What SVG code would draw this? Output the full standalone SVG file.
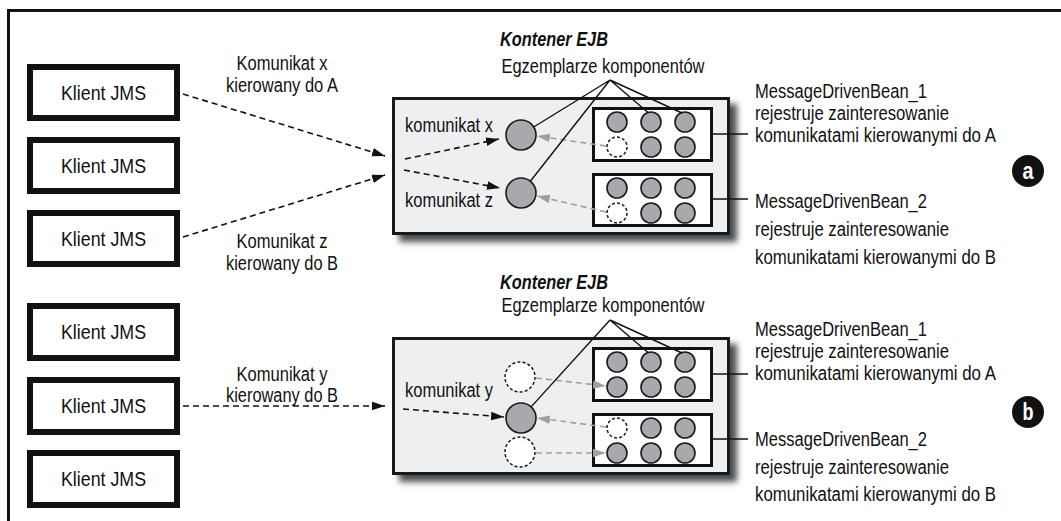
<svg xmlns="http://www.w3.org/2000/svg" width="1061" height="521" viewBox="0 0 1061 521">
<style>
text{font-family:"Liberation Sans",Arial,sans-serif;font-size:20px;fill:#111}
.mid{text-anchor:middle}
.title{font-weight:bold;font-style:italic}
.client{fill:#fff;stroke:#111;stroke-width:6}
.cont{fill:#eeeff1;stroke:#1a1a1a;stroke-width:3}
.shadow{fill:#4a4f52;filter:url(#blur)}
.bean{fill:#fff;stroke:#111;stroke-width:3}
.inst{fill:#a7a9ac;stroke:#1a1a1a;stroke-width:1.6}
.empty{fill:#fff;stroke:#1a1a1a;stroke-width:1.5;stroke-dasharray:3 2.2}
.msg{fill:none;stroke:#111;stroke-width:1.6;stroke-dasharray:6 4;marker-end:url(#ah)}
.ret{fill:none;stroke:#a0a0a0;stroke-width:1.6;stroke-dasharray:6 4;marker-end:url(#ahg)}
.ptr{fill:none;stroke:#111;stroke-width:1.4}
.badge{fill:#111}
.badgetxt{fill:#fff;font-weight:bold;font-size:23px;text-anchor:middle}
</style>
<defs>
<filter id="blur" x="-10%" y="-20%" width="120%" height="140%"><feGaussianBlur stdDeviation="3"/></filter>
<marker id="ah" viewBox="0 0 12 8" refX="12" refY="4" markerWidth="13" markerHeight="9" markerUnits="userSpaceOnUse" orient="auto"><path d="M0,0 L12,4 L0,8 z" fill="#111"/></marker>
<marker id="ahg" viewBox="0 0 12 8" refX="12" refY="4" markerWidth="13" markerHeight="9" markerUnits="userSpaceOnUse" orient="auto"><path d="M0,0 L12,4 L0,8 z" fill="#a0a0a0"/></marker>
</defs>
<rect width="1061" height="521" fill="#fff"/>
<path d="M8.5,521 V10.5 H1061" fill="none" stroke="#111" stroke-width="3"/>

<g id="client1"><rect class="client" x="30" y="67" width="147" height="51"/><text class="mid" x="103.5" y="100" textLength="85" lengthAdjust="spacingAndGlyphs">Klient JMS</text></g>
<g id="client2"><rect class="client" x="30" y="140" width="147" height="51"/><text class="mid" x="103.5" y="173" textLength="85" lengthAdjust="spacingAndGlyphs">Klient JMS</text></g>
<g id="client3"><rect class="client" x="30" y="213" width="147" height="51"/><text class="mid" x="103.5" y="246" textLength="85" lengthAdjust="spacingAndGlyphs">Klient JMS</text></g>
<g id="client4"><rect class="client" x="30" y="306" width="147" height="52"/><text class="mid" x="103.5" y="339" textLength="85" lengthAdjust="spacingAndGlyphs">Klient JMS</text></g>
<g id="client5"><rect class="client" x="30" y="380" width="147" height="52"/><text class="mid" x="103.5" y="413" textLength="85" lengthAdjust="spacingAndGlyphs">Klient JMS</text></g>
<g id="client6"><rect class="client" x="30" y="453" width="147" height="52"/><text class="mid" x="103.5" y="486" textLength="85" lengthAdjust="spacingAndGlyphs">Klient JMS</text></g>

<g id="containerA">
<text class="title mid" x="554" y="46" textLength="108" lengthAdjust="spacingAndGlyphs">Kontener EJB</text>
<text class="mid" x="603" y="73" textLength="203" lengthAdjust="spacingAndGlyphs">Egzemplarze komponentów</text>
<rect class="shadow" x="399" y="104" width="338" height="138"/>
<rect class="cont" x="393.5" y="98.5" width="335" height="135"/>
<text x="405" y="132" textLength="88" lengthAdjust="spacingAndGlyphs">komunikat x</text>
<text x="405" y="207" textLength="88" lengthAdjust="spacingAndGlyphs">komunikat z</text>
<circle class="inst" cx="521" cy="135" r="15"/>
<circle class="inst" cx="521" cy="193" r="15"/>
</g>
<g id="beanA1">
<rect class="bean" x="593.5" y="108.5" width="118" height="52"/>
<circle class="inst" cx="617" cy="122" r="10"/><circle class="inst" cx="651" cy="122" r="10"/><circle class="inst" cx="685" cy="122" r="10"/>
<circle class="empty" cx="617" cy="147" r="10"/><circle class="inst" cx="651" cy="147" r="10"/><circle class="inst" cx="685" cy="147" r="10"/>
</g>
<g id="beanA2">
<rect class="bean" x="593.5" y="174.5" width="118" height="51"/>
<circle class="inst" cx="617" cy="188" r="10"/><circle class="inst" cx="651" cy="188" r="10"/><circle class="inst" cx="685" cy="188" r="10"/>
<circle class="empty" cx="617" cy="213" r="10"/><circle class="inst" cx="651" cy="213" r="10"/><circle class="inst" cx="685" cy="213" r="10"/>
</g>
<g id="labelA1"><text x="755" y="98" textLength="172" lengthAdjust="spacingAndGlyphs">MessageDrivenBean_1</text><text x="755" y="120" textLength="194" lengthAdjust="spacingAndGlyphs">rejestruje zainteresowanie</text><text x="755" y="142" textLength="241" lengthAdjust="spacingAndGlyphs">komunikatami kierowanymi do A</text></g>
<g id="labelA2"><text x="755" y="208" textLength="172" lengthAdjust="spacingAndGlyphs">MessageDrivenBean_2</text><text x="755" y="236" textLength="194" lengthAdjust="spacingAndGlyphs">rejestruje zainteresowanie</text><text x="755" y="264" textLength="241" lengthAdjust="spacingAndGlyphs">komunikatami kierowanymi do B</text></g>
<g id="badgeA"><circle class="badge" cx="1028" cy="171" r="16"/><text class="badgetxt" x="1028" y="179" textLength="11" lengthAdjust="spacingAndGlyphs">a</text></g>

<g id="containerB">
<text class="title mid" x="554" y="289" textLength="108" lengthAdjust="spacingAndGlyphs">Kontener EJB</text>
<text class="mid" x="603" y="312" textLength="203" lengthAdjust="spacingAndGlyphs">Egzemplarze komponentów</text>
<rect class="shadow" x="399" y="344" width="338" height="138"/>
<rect class="cont" x="393.5" y="338.5" width="335" height="135"/>
<text x="405" y="397" textLength="88" lengthAdjust="spacingAndGlyphs">komunikat y</text>
<circle class="empty" cx="520" cy="377" r="15"/>
<circle class="inst" cx="521" cy="418" r="15"/>
<circle class="empty" cx="520" cy="452" r="15"/>
</g>
<g id="beanB1">
<rect class="bean" x="593.5" y="348.5" width="118" height="52"/>
<circle class="inst" cx="617" cy="362" r="10"/><circle class="inst" cx="651" cy="362" r="10"/><circle class="inst" cx="685" cy="362" r="10"/>
<circle class="inst" cx="617" cy="387" r="10"/><circle class="inst" cx="651" cy="387" r="10"/><circle class="inst" cx="685" cy="387" r="10"/>
</g>
<g id="beanB2">
<rect class="bean" x="593.5" y="414.5" width="118" height="51"/>
<circle class="empty" cx="617" cy="428" r="10"/><circle class="inst" cx="651" cy="428" r="10"/><circle class="inst" cx="685" cy="428" r="10"/>
<circle class="inst" cx="617" cy="453" r="10"/><circle class="inst" cx="651" cy="453" r="10"/><circle class="inst" cx="685" cy="453" r="10"/>
</g>
<g id="labelB1"><text x="755" y="336" textLength="172" lengthAdjust="spacingAndGlyphs">MessageDrivenBean_1</text><text x="755" y="358" textLength="194" lengthAdjust="spacingAndGlyphs">rejestruje zainteresowanie</text><text x="755" y="380" textLength="241" lengthAdjust="spacingAndGlyphs">komunikatami kierowanymi do A</text></g>
<g id="labelB2"><text x="755" y="446" textLength="172" lengthAdjust="spacingAndGlyphs">MessageDrivenBean_2</text><text x="755" y="474" textLength="194" lengthAdjust="spacingAndGlyphs">rejestruje zainteresowanie</text><text x="755" y="501" textLength="241" lengthAdjust="spacingAndGlyphs">komunikatami kierowanymi do B</text></g>
<g id="badgeB"><circle class="badge" cx="1028" cy="412" r="16"/><text class="badgetxt" x="1028" y="420" textLength="11" lengthAdjust="spacingAndGlyphs">b</text></g>

<g id="connectors">
<path class="msg" d="M183,94 L385,156"/>
<path class="msg" d="M183,237 L385,175"/>
<path class="msg" d="M405,159 L499,139"/>
<path class="msg" d="M404,170 L500,188"/>
<path class="ret" d="M606,146 L537,136"/>
<path class="ret" d="M606,212 L537,196"/>
<path class="ptr" d="M610,80 L533.7,127 M610,80 L530.3,181.2 M610,80 L648,112.5 M610,80 L682,113"/>
<path class="ptr" d="M713,134 H748 M713,199 H748"/>
<path class="msg" d="M183,406 L385,406"/>
<path class="msg" d="M403,409 L504,417"/>
<path class="ret" d="M536,378 L606,386"/>
<path class="ret" d="M606,427 L537,418"/>
<path class="ret" d="M536,453 L606,453"/>
<path class="ptr" d="M610,320 L531.1,406.9 M610,320 L648,352.5 M610,320 L682,353"/>
<path class="ptr" d="M713,374 H748 M713,439 H748"/>
<text class="mid" x="282" y="70" textLength="91" lengthAdjust="spacingAndGlyphs">Komunikat x</text>
<text class="mid" x="282" y="92" textLength="112" lengthAdjust="spacingAndGlyphs">kierowany do A</text>
<text class="mid" x="282" y="248" textLength="91" lengthAdjust="spacingAndGlyphs">Komunikat z</text>
<text class="mid" x="282" y="270" textLength="112" lengthAdjust="spacingAndGlyphs">kierowany do B</text>
<text class="mid" x="282" y="381" textLength="91" lengthAdjust="spacingAndGlyphs">Komunikat y</text>
<text class="mid" x="282" y="402" textLength="112" lengthAdjust="spacingAndGlyphs">kierowany do B</text>
</g>
</svg>
